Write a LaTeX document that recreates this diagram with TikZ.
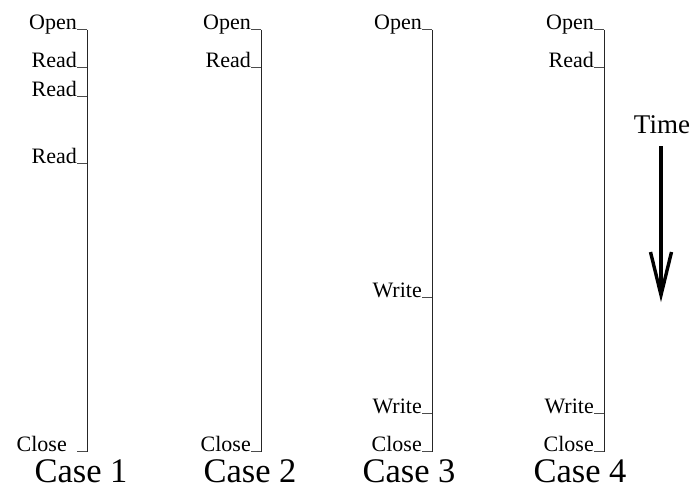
\documentclass[tikz,border=0pt]{standalone}
\usepackage{fontspec}
\setmainfont{Liberation Serif}
\begin{document}
\begin{tikzpicture}[x=1pt,y=-1pt,
  evt/.style={anchor=base east,inner sep=0pt,font=\fontsize{22}{22}\selectfont},
  casename/.style={anchor=base,inner sep=0pt,font=\fontsize{34.5}{34.5}\selectfont},
  timeline/.style={line width=0.9pt,black!85},
  tick/.style={line width=0.9pt,black!70},
  timearrow/.style={line width=3.4pt,line join=miter}]
\useasboundingbox (0,0) rectangle (693,493);

% Case 1
\coordinate (a0) at (87,29.5); \coordinate (a1) at (87,451.5);
\draw[timeline] (a0) -- (a1);
\node[evt] (aopen)  at (77,29.5)  {Open};
\node[evt] (aread1) at (77,67.3)  {Read};
\node[evt] (aread2) at (77,96)    {Read};
\node[evt] (aread3) at (77,163.3) {Read};
\node[evt] (aclose) at (67,451.5) {Close};
\foreach \n in {aopen,aread1,aread2,aread3}
  \draw[tick] (\n.base east) -- (\n.base east -| a0);
\draw[tick] (aclose.base east) ++(10,0) -- (aclose.base east -| a0);
\node[casename] (case1) at (81,482.5) {Case 1};

% Case 2
\coordinate (b0) at (261,29.5); \coordinate (b1) at (261,451.5);
\draw[timeline] (b0) -- (b1);
\node[evt] (bopen)  at (251,29.5)  {Open};
\node[evt] (bread)  at (251,67.3)  {Read};
\node[evt] (bclose) at (251,451.5) {Close};
\foreach \n in {bopen,bread,bclose}
  \draw[tick] (\n.base east) -- (\n.base east -| b0);
\node[casename] (case2) at (250,482.5) {Case 2};

% Case 3
\coordinate (c0) at (432,29.5); \coordinate (c1) at (432,451.5);
\draw[timeline] (c0) -- (c1);
\node[evt] (copen)   at (422,29.5)  {Open};
\node[evt] (cwrite1) at (422,297.5) {Write};
\node[evt] (cwrite2) at (422,413)   {Write};
\node[evt] (cclose)  at (422,451.5) {Close};
\foreach \n in {copen,cwrite1,cwrite2,cclose}
  \draw[tick] (\n.base east) -- (\n.base east -| c0);
\node[casename] (case3) at (409,482.5) {Case 3};

% Case 4
\coordinate (d0) at (604,29.5); \coordinate (d1) at (604,451.5);
\draw[timeline] (d0) -- (d1);
\node[evt] (dopen)  at (594,29.5)  {Open};
\node[evt] (dread)  at (594,67.3)  {Read};
\node[evt] (dwrite) at (594,413)   {Write};
\node[evt] (dclose) at (594,451.5) {Close};
\foreach \n in {dopen,dread,dwrite,dclose}
  \draw[tick] (\n.base east) -- (\n.base east -| d0);
\node[casename] (case4) at (580,482.5) {Case 4};

% Time arrow
\node[anchor=base,inner sep=0pt,font=\fontsize{27}{27}\selectfont] (time) at (662,133) {Time};
\coordinate (ttop) at (661,146);
\coordinate (ttip) at (661,295);
\draw[timearrow] (ttop) -- (ttip);
\draw[timearrow] (650.5,252) -- (ttip) -- (671.5,252);
\end{tikzpicture}
\end{document}
